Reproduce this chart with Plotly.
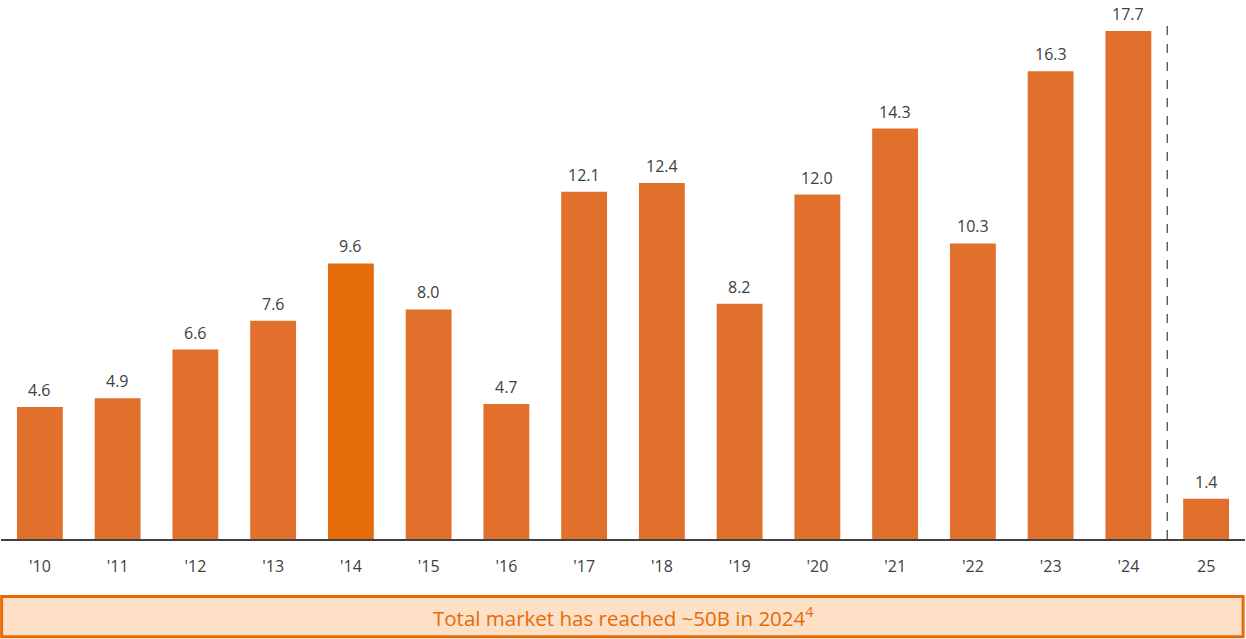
import plotly.graph_objects as go

years = ["'10", "'11", "'12", "'13", "'14", "'15", "'16", "'17", "'18", "'19",
         "'20", "'21", "'22", "'23", "'24", "25"]
values = [4.6, 4.9, 6.6, 7.6, 9.6, 8.0, 4.7, 12.1, 12.4, 8.2,
          12.0, 14.3, 10.3, 16.3, 17.7, 1.4]
highlight_year = "'14"
footnote = "Total market has reached ~50B in 2024<sup>4</sup>"

BAR = "#E0702B"
BAR_HI = "#E46C0A"
TEXT = "#404040"
FONT = "Open Sans"

colors = [BAR_HI if y == highlight_year else BAR for y in years]

fig = go.Figure(go.Bar(
    x=years,
    y=values,
    marker=dict(color=colors, line=dict(width=0)),
    width=0.59,
    hoverinfo="x+y",
))

# value labels above each bar (category index positions)
for i, v in enumerate(values):
    fig.add_annotation(x=i, y=v, xref="x", yref="y", text=f"{v:.1f}",
                       showarrow=False, yanchor="bottom", yshift=4,
                       font=dict(family=FONT, size=16, color=TEXT))

# separator between actuals and the partial year
fig.add_shape(type="line", xref="x", yref="y", x0=14.5, x1=14.5, y0=0, y1=18.0,
              line=dict(color="#404040", width=1.2, dash="dash"))

# footnote banner under the axis
fig.add_shape(type="rect", xref="paper", yref="paper",
              x0=0.0005, x1=0.9985, y0=-0.1065, y1=-0.1815,
              line=dict(color="#E36C0A", width=3), fillcolor="#FDE0C5", layer="below")
fig.add_annotation(xref="paper", yref="paper", x=0.5, y=-0.144, showarrow=False,
                   text=footnote, font=dict(family=FONT, size=20.5, color="#E36C0A"),
                   xanchor="center", yanchor="middle")

fig.update_layout(
    width=1246, height=639,
    margin=dict(l=1, r=1, t=0, b=100),
    plot_bgcolor="white", paper_bgcolor="white",
    showlegend=False,
)
fig.update_xaxes(
    type="category", range=[-0.5, 15.5],
    showline=True, linecolor="#404040", linewidth=1.5,
    ticks="outside", ticklen=12, tickcolor="rgba(0,0,0,0)",
    tickfont=dict(family=FONT, size=16, color=TEXT),
    showgrid=False, zeroline=False,
)
fig.update_yaxes(range=[0, 18.78], visible=False, showgrid=False, zeroline=False)

fig.write_html("out.html")
